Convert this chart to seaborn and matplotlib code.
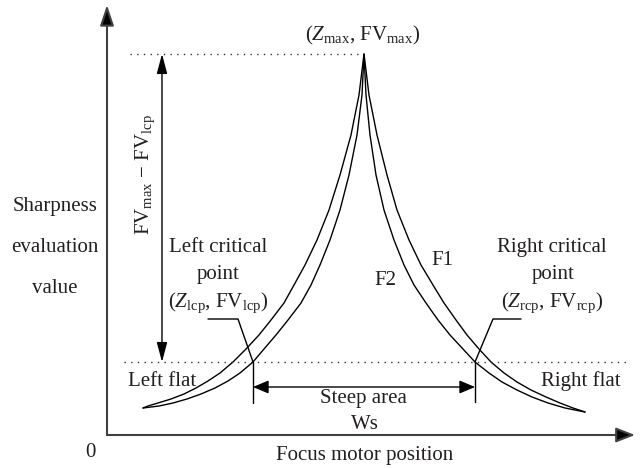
import matplotlib
matplotlib.use("Agg")
import matplotlib.pyplot as plt
import seaborn as sns
import pandas as pd

# ---- data (focus position vs sharpness value) ----
f1_position = [36, 41, 51, 64, 77, 89, 101, 113, 126, 139, 152, 164, 177, 187, 198, 210,
               222, 233, 244, 252, 257,
               262, 270, 280, 290, 302, 314, 326, 337, 349, 360, 372, 384, 397, 410,
               424, 439, 453, 466, 478]
f1_value = [27, 29, 32, 36, 41, 47, 54, 62, 73, 86, 100, 115, 132, 150, 170, 195,
            225, 260, 300, 340, 381,
            340, 300, 260, 225, 195, 170, 150, 132, 115, 100, 86, 73, 62, 53,
            45, 38, 32, 27, 23]

f2_position = [36, 52, 66, 80, 94, 108, 121, 133, 146, 157, 169, 181, 194, 204, 213, 223,
               233, 242, 250, 255, 257,
               259, 263, 269, 277, 287, 297, 307, 319, 331, 343, 356, 368, 382, 395,
               410, 425, 441, 458, 478]
f2_value = [27, 29, 32, 36, 41, 47, 54, 62, 73, 86, 100, 115, 132, 150, 170, 195,
            225, 260, 300, 340, 381,
            340, 300, 260, 225, 195, 170, 150, 132, 115, 100, 86, 73, 62, 53,
            45, 38, 32, 27, 23]

z_max, fv_max = 257, 381
z_lcp, z_rcp, fv_lcp = 146, 368, 73

df = pd.concat([
    pd.DataFrame({"position": f1_position, "value": f1_value, "curve": "F1"}),
    pd.DataFrame({"position": f2_position, "value": f2_value, "curve": "F2"}),
], ignore_index=True)

sns.set_theme(style="white")
plt.rcParams["font.family"] = ["Liberation Serif", "DejaVu Serif"]
plt.rcParams["mathtext.fontset"] = "custom"
plt.rcParams["mathtext.rm"] = "Liberation Serif"
plt.rcParams["mathtext.it"] = "Liberation Serif:italic"

fig = plt.figure(figsize=(6.41, 4.68), dpi=100)
ax = fig.add_axes([0, 0, 1, 1])
ax.set_xlim(-107, 534)
ax.set_ylim(-33, 435)
ax.axis("off")

sns.lineplot(data=df, x="position", y="value", hue="curve",
             palette={"F1": "black", "F2": "black"}, estimator=None, sort=False,
             legend=False, linewidth=1.0, ax=ax)

TXT = "#231f20"
FS = 15

# main axes with arrows
axis_col = "#404040"
ax.annotate("", xy=(0, 430), xytext=(0, 0),
            arrowprops=dict(arrowstyle="-|>,head_length=1.25,head_width=0.42",
                            lw=1.5, color=axis_col, fc="black", ec=axis_col,
                            shrinkA=0, shrinkB=0, mutation_scale=10))
ax.annotate("", xy=(528, 0), xytext=(0, 0),
            arrowprops=dict(arrowstyle="-|>,head_length=1.15,head_width=0.45",
                            lw=1.5, color=axis_col, fc="black", ec=axis_col,
                            shrinkA=0, shrinkB=0, mutation_scale=10))

# dotted reference lines
ax.plot([23, z_max - 2], [fv_max, fv_max], color="#333333", lw=1.0,
        dashes=(1, 3.8))
ax.plot([17, 520], [fv_lcp, fv_lcp], color="#333333", lw=1.0, dashes=(1, 3.8))

# vertical double arrow FVmax - FVlcp
ax.annotate("", xy=(55, fv_max), xytext=(55, fv_lcp),
            arrowprops=dict(arrowstyle="<|-|>,head_length=1.2,head_width=0.32",
                            lw=1.0, color="black", shrinkA=0, shrinkB=0,
                            mutation_scale=10))
# horizontal double arrow steep area
ax.annotate("", xy=(z_lcp, 48), xytext=(z_rcp, 48),
            arrowprops=dict(arrowstyle="<|-|>,head_length=0.95,head_width=0.4",
                            lw=1.0, color="black", shrinkA=0, shrinkB=0,
                            mutation_scale=10))
# vertical ticks at critical points
ax.plot([z_lcp, z_lcp], [fv_lcp, 32], color="black", lw=1.0)
ax.plot([z_rcp, z_rcp], [fv_lcp, 33], color="black", lw=1.0)

# leader lines
ax.plot([101, 131, z_lcp], [116, 116, fv_lcp], color="black", lw=1.0)
ax.plot([414, 386, z_rcp], [116, 116, fv_lcp], color="black", lw=1.0)

# texts
def t(x, y, s, **kw):
    kw.setdefault("ha", "center")
    kw.setdefault("va", "baseline")
    ax.text(x, y, s, fontsize=FS, color=TXT, **kw)

t(256, 395, r"($Z_{\mathrm{max}}$, FV$_{\mathrm{max}}$)")
t(-52, 224, "Sharpness")
t(-52, 183, "evaluation")
t(-52, 142, "value")
t(-17, -22, "0")
t(258, -25, "Focus motor position")
t(38, 260, r"FV$_{\mathrm{max}}$ − FV$_{\mathrm{lcp}}$", rotation=90, va="center")
t(111, 183, "Left critical")
t(111, 156, "point")
t(111, 128, r"($Z_{\mathrm{lcp}}$, FV$_{\mathrm{lcp}}$)")
t(445, 183, "Right critical")
t(446, 156, "point")
t(445, 128, r"($Z_{\mathrm{rcp}}$, FV$_{\mathrm{rcp}}$)")
t(335, 170, "F1")
t(278, 150, "F2")
t(55, 49, "Left flat")
t(474, 49, "Right flat")
t(256, 32, "Steep area")
t(258, 6, "Ws")

fig.savefig("out.png", dpi=100)
